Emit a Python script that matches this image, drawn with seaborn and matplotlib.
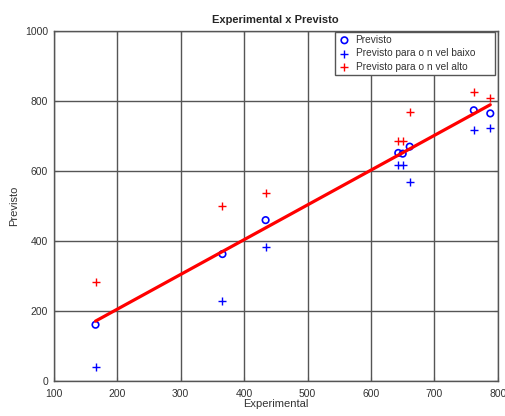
import numpy as np
import pandas as pd
import matplotlib
matplotlib.use("Agg")
import matplotlib.pyplot as plt
import seaborn as sns

# Experimental vs predicted values
experimental = [166, 366, 434, 643, 650, 661, 762, 788]
previsto = [161, 363, 460, 652, 650, 670, 774, 765]
previsto_baixo = [39, 228, 384, 617, 617, 570, 718, 724]
previsto_alto = [283, 499, 537, 686, 686, 769, 826, 808]

x_ticks = [100, 200, 300, 400, 500, 600, 700, 800]
y_ticks = [0, 200, 400, 600, 800, 1000]

sns.set_style("white")
plt.rcParams["font.family"] = ["Liberation Sans", "DejaVu Sans"]

df = pd.DataFrame({"Experimental": experimental, "Previsto": previsto,
                   "Baixo": previsto_baixo, "Alto": previsto_alto})

fig = plt.figure(figsize=(5.06, 4.16), dpi=100)
ax = fig.add_axes([0.106, 0.084, 0.878, 0.841])

sns.scatterplot(data=df, x="Experimental", y="Previsto", ax=ax, marker="o",
                facecolor="none", edgecolor="#0000ff", linewidth=1.2, s=22,
                label="Previsto", zorder=3)
sns.scatterplot(data=df, x="Experimental", y="Baixo", ax=ax, marker="+",
                color="#0000ff", linewidth=1.0, s=30,
                label="Previsto para o n vel baixo", zorder=3)
sns.scatterplot(data=df, x="Experimental", y="Alto", ax=ax, marker="+",
                color="#ff0000", linewidth=1.0, s=30,
                label="Previsto para o n vel alto", zorder=3)
sns.regplot(data=df, x="Experimental", y="Previsto", ax=ax, scatter=False,
            ci=None, truncate=True, color="#ff0000",
            line_kws={"linewidth": 2.3, "zorder": 4})

ax.set_xlim(100, 800)
ax.set_ylim(0, 1000)
ax.set_xticks(x_ticks)
ax.set_yticks(y_ticks)
ax.grid(True, color="#555555", linewidth=1.0)
ax.set_axisbelow(True)
for sp in ax.spines.values():
    sp.set_color("#555555")
    sp.set_linewidth(1.0)
ax.tick_params(direction="in", length=3, labelsize=7.5, colors="#555555",
               labelcolor="#333333",
               top=True, right=True, bottom=True, left=True)
ax.tick_params(axis="x", pad=6)
ax.tick_params(axis="y", pad=4)
ax.set_xlabel("Experimental", fontsize=8, labelpad=0, color="#333333")
ax.set_ylabel("Previsto", fontsize=8, labelpad=4, color="#333333")
ax.set_title("Experimental x Previsto", fontsize=8, fontweight="bold", pad=6)

leg = ax.legend(loc="upper left", bbox_to_anchor=(0.634, 0.0, 0.36, 0.998),
                mode="expand", fontsize=7.3, frameon=True, fancybox=False,
                borderaxespad=0.0, handletextpad=0.5, labelspacing=0.35,
                borderpad=0.3, handlelength=1.2)
leg.get_frame().set_edgecolor("#555555")
leg.get_frame().set_linewidth(1.0)
leg.get_frame().set_alpha(1.0)
for t in leg.get_texts():
    t.set_color("#333333")

fig.savefig("out.png", dpi=100)
